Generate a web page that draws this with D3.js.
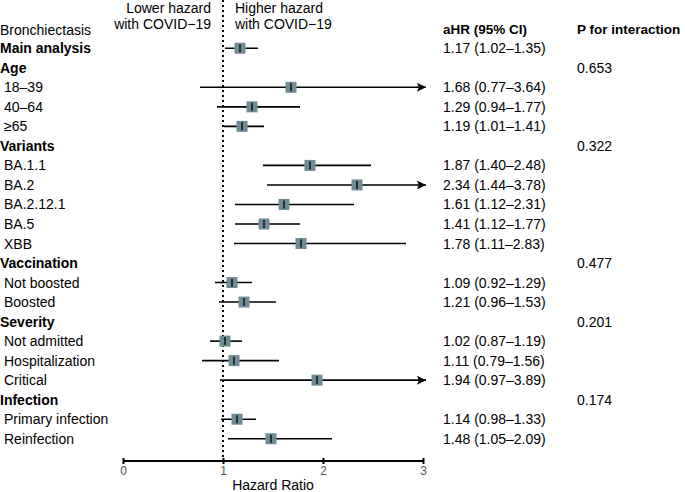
<!DOCTYPE html>
<html>
<head>
<meta charset="utf-8">
<script src="https://cdn.jsdelivr.net/npm/d3@7"></script>
<style>
  body { margin: 0; background: #fff; }
  svg { font-family: "Liberation Sans", Arial, sans-serif; }
</style>
</head>
<body>
<svg width="685" height="492"></svg>
<script>
// rows, top to bottom (type 'g' = group heading)
let labels = ['Main analysis', 'Age', '18\u201339', '40\u201364', '\u226565', 'Variants', 'BA.1.1', 'BA.2', 'BA.2.12.1', 'BA.5', 'XBB',
  'Vaccination', 'Not boosted', 'Boosted', 'Severity', 'Not admitted', 'Hospitalization', 'Critical', 'Infection', 'Primary infection', 'Reinfection']
let types = ['g', 'g', 'i', 'i', 'i', 'g', 'i', 'i', 'i', 'i', 'i', 'g', 'i', 'i', 'g', 'i', 'i', 'i', 'g', 'i', 'i']
let hr =    [1.17, null, 1.68, 1.29, 1.19, null, 1.87, 2.34, 1.61, 1.41, 1.78, null, 1.09, 1.21, null, 1.02, 1.11, 1.94, null, 1.14, 1.48]
let lower = [1.02, null, 0.77, 0.94, 1.01, null, 1.40, 1.44, 1.12, 1.12, 1.11, null, 0.92, 0.96, null, 0.87, 0.79, 0.97, null, 0.98, 1.05]
let upper = [1.35, null, 3.64, 1.77, 1.41, null, 2.48, 3.78, 2.31, 1.77, 2.83, null, 1.29, 1.53, null, 1.19, 1.56, 3.89, null, 1.33, 2.09]
let pInter = ['', '0.653', '', '', '', '0.322', '', '', '', '', '', '0.477', '', '', '0.201', '', '', '', '0.174', '', '']
let xTicks = [0, 1, 2, 3]

let svg = d3.select('svg')
let fmt = d3.format('.2f')
let fs = 14

let xScale = d3.scaleLinear().domain([0, 3]).range([123, 423])
let yScale = d3.scaleBand().domain(d3.range(labels.length)).range([38.5, 448.5])

let rows = labels.map((l, i) => ({ i: i, label: l, type: types[i], hr: hr[i], lo: lower[i], hi: upper[i], p: pInter[i] }))

svg.append('defs').append('marker')
  .attr('id', 'arrow')
  .attr('viewBox', '0 0 10 10')
  .attr('refX', 10).attr('refY', 5)
  .attr('markerWidth', 10).attr('markerHeight', 9)
  .attr('markerUnits', 'userSpaceOnUse')
  .attr('orient', 'auto')
  .append('path').attr('d', 'M0,0 L10,5 L0,10 L2,5 Z').attr('fill', '#000')

// headers
svg.append('text').attr('x', 0).attr('y', 35).attr('font-size', fs).text('Bronchiectasis')
svg.append('text').attr('x', 443).attr('y', 34).attr('font-size', 13.5).attr('font-weight', 'bold').text('aHR (95% CI)')
svg.append('text').attr('x', 577).attr('y', 34).attr('font-size', 13.5).attr('font-weight', 'bold').text('P for interaction')

let lowerHdr = svg.append('text').attr('text-anchor', 'end').attr('font-size', fs)
lowerHdr.append('tspan').attr('x', 211).attr('y', 13).text('Lower hazard')
lowerHdr.append('tspan').attr('x', 211).attr('y', 29).text('with COVID\u221219')
let higherHdr = svg.append('text').attr('font-size', fs)
higherHdr.append('tspan').attr('x', 235).attr('y', 13).text('Higher hazard')
higherHdr.append('tspan').attr('x', 235).attr('y', 29).text('with COVID\u221219')

// reference line
svg.append('line')
  .attr('x1', xScale(1)).attr('x2', xScale(1))
  .attr('y1', 0).attr('y2', 461)
  .attr('stroke', '#000').attr('stroke-width', 2)
  .attr('stroke-dasharray', '2,3')

let yc = (d) => yScale(d.i) + yScale.bandwidth() / 2

// row labels
svg.selectAll('.label')
  .data(rows)
  .enter()
  .append('text')
  .attr('class', 'label')
  .attr('x', (d) => d.type == 'g' ? 0 : 4)
  .attr('y', (d) => yc(d) + 5)
  .attr('font-size', fs)
  .attr('font-weight', (d) => d.type == 'g' ? 'bold' : 'normal')
  .text((d) => d.label)

let est = rows.filter((d) => d.hr != null)

// CI lines
svg.selectAll('.ci')
  .data(est)
  .enter()
  .append('line')
  .attr('class', 'ci')
  .attr('x1', (d) => xScale(d.lo))
  .attr('x2', (d) => d.hi > 3 ? xScale(3) + 3 : xScale(d.hi))
  .attr('y1', yc).attr('y2', yc)
  .attr('stroke', '#000').attr('stroke-width', 1.6)
  .attr('marker-end', (d) => d.hi > 3 ? 'url(#arrow)' : null)

// point squares
svg.selectAll('.pt')
  .data(est)
  .enter()
  .append('rect')
  .attr('class', 'pt')
  .attr('x', (d) => xScale(d.hr) - 5.5)
  .attr('y', (d) => yc(d) - 5.5)
  .attr('width', 11).attr('height', 11)
  .attr('fill', '#6f8b95')

svg.selectAll('.tick-mark')
  .data(est)
  .enter()
  .append('line')
  .attr('class', 'tick-mark')
  .attr('x1', (d) => xScale(d.hr)).attr('x2', (d) => xScale(d.hr))
  .attr('y1', (d) => yc(d) - 4).attr('y2', (d) => yc(d) + 4)
  .attr('stroke', '#000').attr('stroke-width', 1.3)

// aHR text
svg.selectAll('.ahr')
  .data(est)
  .enter()
  .append('text')
  .attr('class', 'ahr')
  .attr('x', 443)
  .attr('y', (d) => yc(d) + 5)
  .attr('font-size', fs)
  .text((d) => fmt(d.hr) + ' (' + fmt(d.lo) + '\u2013' + fmt(d.hi) + ')')

// P text
svg.selectAll('.pval')
  .data(rows.filter((d) => d.p != ''))
  .enter()
  .append('text')
  .attr('class', 'pval')
  .attr('x', 577)
  .attr('y', (d) => yc(d) + 5)
  .attr('font-size', fs)
  .text((d) => d.p)

// x axis
let xAxis = d3.axisBottom(xScale).tickValues(xTicks).tickFormat(d3.format('d')).tickSize(6).tickSizeOuter(0)
let gx = svg.append('g')
  .attr('transform', 'translate(0,461)')
  .call(xAxis)
gx.select('.domain').attr('stroke-width', 2).attr('d', 'M' + xScale(0) + ',0H' + xScale(3))
gx.selectAll('.tick line').attr('stroke-width', 2).attr('y1', -3).attr('y2', 3)
gx.selectAll('.tick text').attr('font-size', 12).attr('fill', '#555').attr('dy', '0.4em').attr('font-family', 'Liberation Sans, Arial, sans-serif')

svg.append('text').attr('x', xScale(1.5)).attr('y', 490).attr('text-anchor', 'middle').attr('font-size', fs).text('Hazard Ratio')
</script>
</body>
</html>
